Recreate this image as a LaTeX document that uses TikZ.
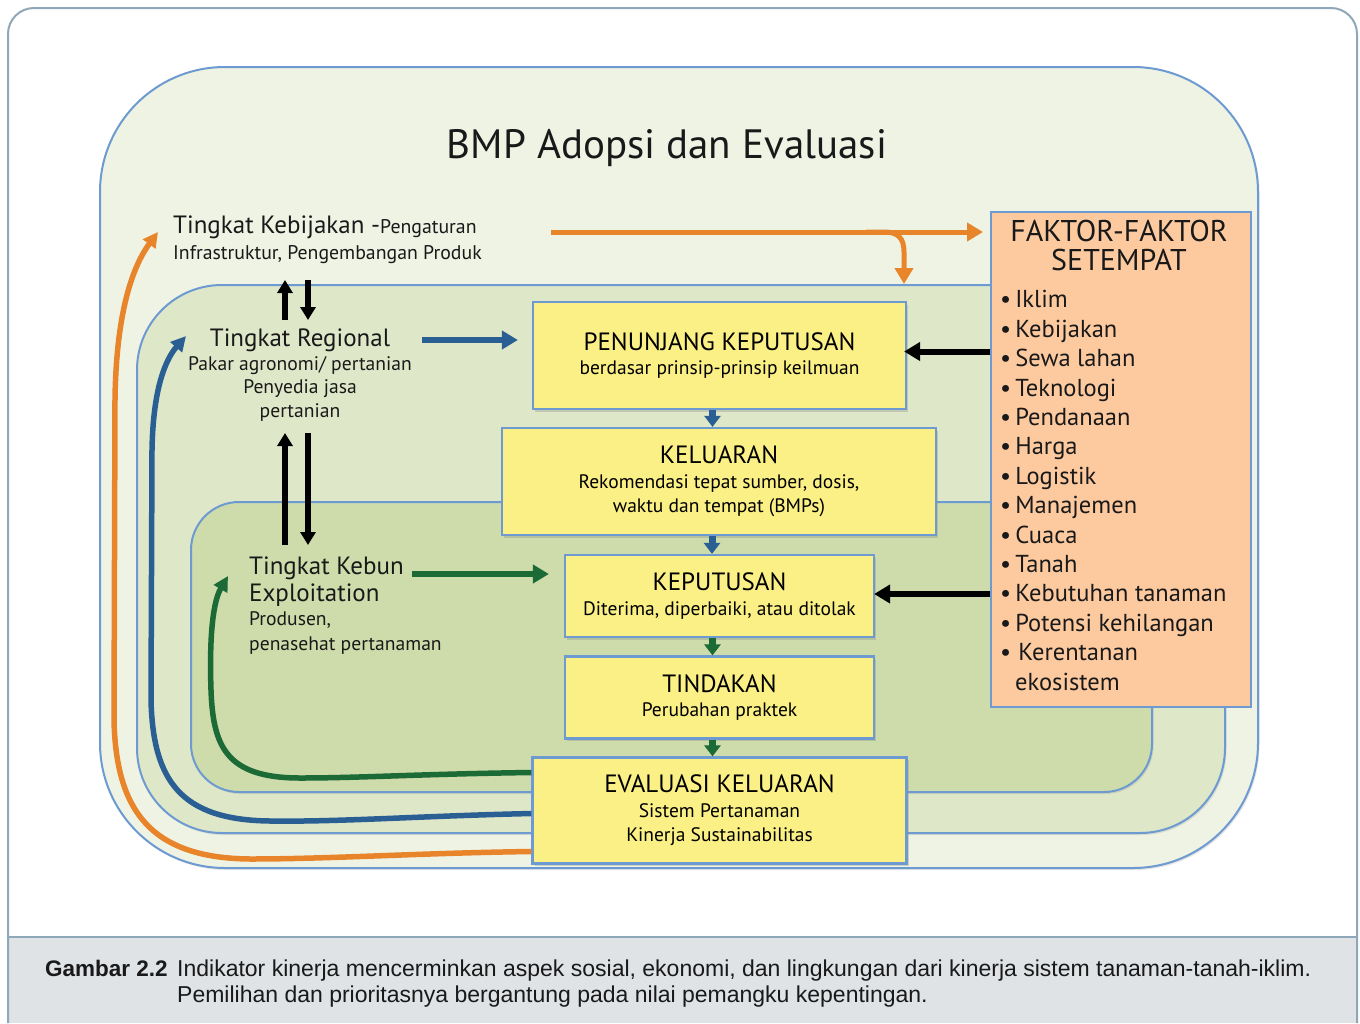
\documentclass[tikz,border=0pt]{standalone}
\usepackage{fontspec}
\setmainfont{PT Sans}
\newfontfamily\capfont{Liberation Sans}
\usetikzlibrary{arrows.meta,shadows}

\definecolor{bingkai}{HTML}{8FA8B9}
\definecolor{pita}{HTML}{DFE3E6}
\definecolor{garis}{HTML}{6D9BD1}
\definecolor{luar}{HTML}{EFF3E4}
\definecolor{tengah}{HTML}{DFE7C9}
\definecolor{dalam}{HTML}{CDDCAA}
\definecolor{kuning}{HTML}{FBF085}
\definecolor{persik}{HTML}{FDCAA0}
\definecolor{oranye}{HTML}{E8852A}
\definecolor{biru}{HTML}{2A5F93}
\definecolor{hijau}{HTML}{1C6A36}

\newcommand{\besar}{\fontsize{25}{24.5}\selectfont}
\newcommand{\kecil}{\fontsize{19.5}{24.5}\selectfont}

\tikzset{
  region/.style={draw=garis, line width=2pt,
    drop shadow={shadow xshift=1.5pt, shadow yshift=-2pt, opacity=.2}},
  kotak/.style={draw=garis, line width=2.2pt, fill=kuning, align=center, inner sep=0pt,
    font=\kecil, drop shadow={shadow xshift=2pt, shadow yshift=-2.5pt, opacity=.3}},
  teks/.style={inner sep=0pt, text=black!90},
  panah/.style={line width=6pt, -{Triangle[length=16pt,width=18pt]}},
  pendek/.style={line width=7pt, -{Triangle[length=11pt,width=16pt]}},
  balik/.style={line width=5.5pt, -{Triangle[length=15pt,width=15pt]}},
}

\begin{document}
\begin{tikzpicture}[x=1pt, y=-1pt]
  \useasboundingbox (0,0) rectangle (1360,1023);

  % frame and caption band
  \fill[white] (0,0) rectangle (1360,1023);
  \fill[pita] (8,937) rectangle (1357,1023);
  \draw[bingkai, line width=2pt, rounded corners=26pt] (8,1023) -- (8,8) -- (1357,8) -- (1357,1023);
  \draw[bingkai, line width=2pt] (8,937) -- (1357,937);

  % nested levels
  \path[region, fill=luar, rounded corners=125pt] (100,67) rectangle (1258,868);
  \path[region, fill=tengah, rounded corners=85pt] (137,285) rectangle (1225,833);
  \path[region, fill=dalam, rounded corners=48pt] (191,502) rectangle (1152,792);

  \coordinate (o1) at (551,232);
  \coordinate (o3) at (866,232);
  \coordinate (o4) at (904,284);
  \coordinate (ok) at (158,232);
  \coordinate (bk) at (186,336);
  \coordinate (gk) at (228,576);

  % local factors
  \node[draw=garis, line width=2pt, fill=persik, minimum width=260pt, minimum height=495pt,
        inner sep=0pt] (fk) at (1121,459) {};
  \node[teks, font=\fontsize{30}{28.5}\selectfont, align=center, anchor=base] (fkt) at (1119,270)
        {FAKTOR-FAKTOR\\SETEMPAT};
  \node[teks, font=\fontsize{24.5}{29.4}\selectfont, align=left, anchor=base west] (fkl) at (1000,690)
        {•\,Iklim\\•\,Kebijakan\\•\,Sewa lahan\\•\,Teknologi\\•\,Pendanaan\\•\,Harga\\•\,Logistik\\
         •\,Manajemen\\•\,Cuaca\\•\,Tanah\\•\,Kebutuhan tanaman\\•\,Potensi kehilangan\\
         •\hspace*{7pt}Kerentanan\\\hspace*{15pt}ekosistem};

  % orange policy arrow
  \draw[oranye, panah, line width=5pt, shorten >=7pt] (o1) -- (o1 -| fk.west);
  \draw[oranye, panah, line width=5pt] (o3) -- (884,232) .. controls (898,232) and (904,238) .. (904,252) -- (o4);

  % decision chain
  \begin{scope}[every node/.style={kotak}]
    \node[minimum width=373pt, minimum height=107pt] (pk) at (719.5,355.5)
      {{\besar PENUNJANG KEPUTUSAN}\\berdasar prinsip-prinsip keilmuan};
    \node[minimum width=434pt, minimum height=107pt] (kl) at (719,481.5)
      {{\besar KELUARAN}\\Rekomendasi tepat sumber, dosis,\\waktu dan tempat (BMPs)};
    \node[minimum width=309pt, minimum height=82pt] (kp) at (719.5,596)
      {{\besar KEPUTUSAN}\\Diterima, diperbaiki, atau ditolak};
    \node[minimum width=309pt, minimum height=82pt] (td) at (719.5,697.5)
      {{\besar TINDAKAN}\\Perubahan praktek};
    \node[minimum width=374pt, minimum height=106pt] (ev) at (719.5,810.5)
      {{\besar EVALUASI KELUARAN}\\Sistem Pertanaman\\Kinerja Sustainabilitas};
  \end{scope}

  % feedback loops
  \draw[hijau, balik] ([yshift=38pt]ev.west) .. controls (420,774) and (360,778) .. (300,778)
        .. controls (225,778) and (213,745) .. (211,690) .. controls (209,630) and (214,600) .. (gk);
  \draw[biru, balik] ([yshift=-3pt]ev.west) .. controls (420,816) and (340,822) .. (270,821)
        .. controls (180,820) and (153,780) .. (151,700) -- (152,450)
        .. controls (153,390) and (165,360) .. (bk);
  \draw[oranye, balik] ([yshift=-41pt]ev.west) .. controls (420,853) and (330,859) .. (250,859)
        .. controls (150,858) and (116,810) .. (114,720) -- (115,400)
        .. controls (116,320) and (130,270) .. (ok);

  \draw[biru, pendek] ([xshift=-7pt]pk.south) -- ([xshift=-7pt]pk.south |- kl.north);
  \draw[biru, pendek] ([xshift=-7pt]kl.south) -- ([xshift=-7pt]kl.south |- kp.north);
  \draw[hijau, pendek] ([xshift=-7pt]kp.south) -- ([xshift=-7pt]kp.south |- td.north);
  \draw[hijau, pendek] ([xshift=-7pt]td.south) -- ([xshift=-7pt]td.south |- ev.north);

  \draw[black, panah, shorten >=-3pt] ([yshift=4pt]fk.west |- pk.east) -- ([yshift=4pt]pk.east);
  \draw[black, panah, shorten >=-1pt] ([yshift=2pt]fk.west |- kp.east) -- ([yshift=2pt]kp.east);

  % levels
  \node[teks, font=\fontsize{41}{44}\selectfont, anchor=base] (ttl) at (667,158) {BMP Adopsi dan Evaluasi};
  \node[teks, font=\fontsize{19.8}{26}\selectfont, align=left, anchor=base west] (keb) at (173,259)
    {{\besar Tingkat Kebijakan -}Pengaturan\\Infrastruktur, Pengembangan Produk};
  \node[teks, font=\fontsize{19.6}{23.5}\selectfont, align=center, anchor=base] (reg) at (300,417)
    {{\besar Tingkat Regional}\\Pakar agronomi/ pertanian\\Penyedia jasa\\pertanian};
  \node[teks, font=\fontsize{19.6}{24.5}\selectfont, align=left, anchor=base west] (kbn) at (249,650)
    {{\besar Tingkat Kebun}\\[2pt]{\besar Exploitation}\\Produsen,\\penasehat pertanaman};

  \coordinate (h1) at (285,320);
  \coordinate (h2) at (285,280);
  \coordinate (h3) at (308,280);
  \coordinate (h4) at (308,320);
  \coordinate (h5) at (285,545);
  \coordinate (h6) at (285,433);
  \coordinate (h7) at (308,433);
  \coordinate (h8) at (308,545);
  \begin{scope}[every edge/.style={draw, black, line width=6pt, -{Triangle[length=13pt,width=15pt]}}]
    \path (h1) edge (h2);
    \path (h3) edge (h4);
    \path (h5) edge (h6);
    \path (h7) edge (h8);
  \end{scope}

  \draw[biru, panah, shorten >=14pt] (422,340) -- (pk.west |- 0,340);
  \draw[hijau, panah, shorten >=15pt] (412,574) -- (kp.west |- 0,574);

  % caption
  \node[teks, anchor=base west, font=\capfont\bfseries\fontsize{22.5}{26}\selectfont] (gb) at (45,976) {Gambar 2.2};
  \node[teks, anchor=base west, align=left, font=\capfont\fontsize{23}{26}\selectfont] (cap) at (177,1002)
    {Indikator kinerja mencerminkan aspek sosial, ekonomi, dan lingkungan dari kinerja sistem tanaman-tanah-iklim.\\
     Pemilihan dan prioritasnya bergantung pada nilai pemangku kepentingan.};
\end{tikzpicture}
\end{document}
